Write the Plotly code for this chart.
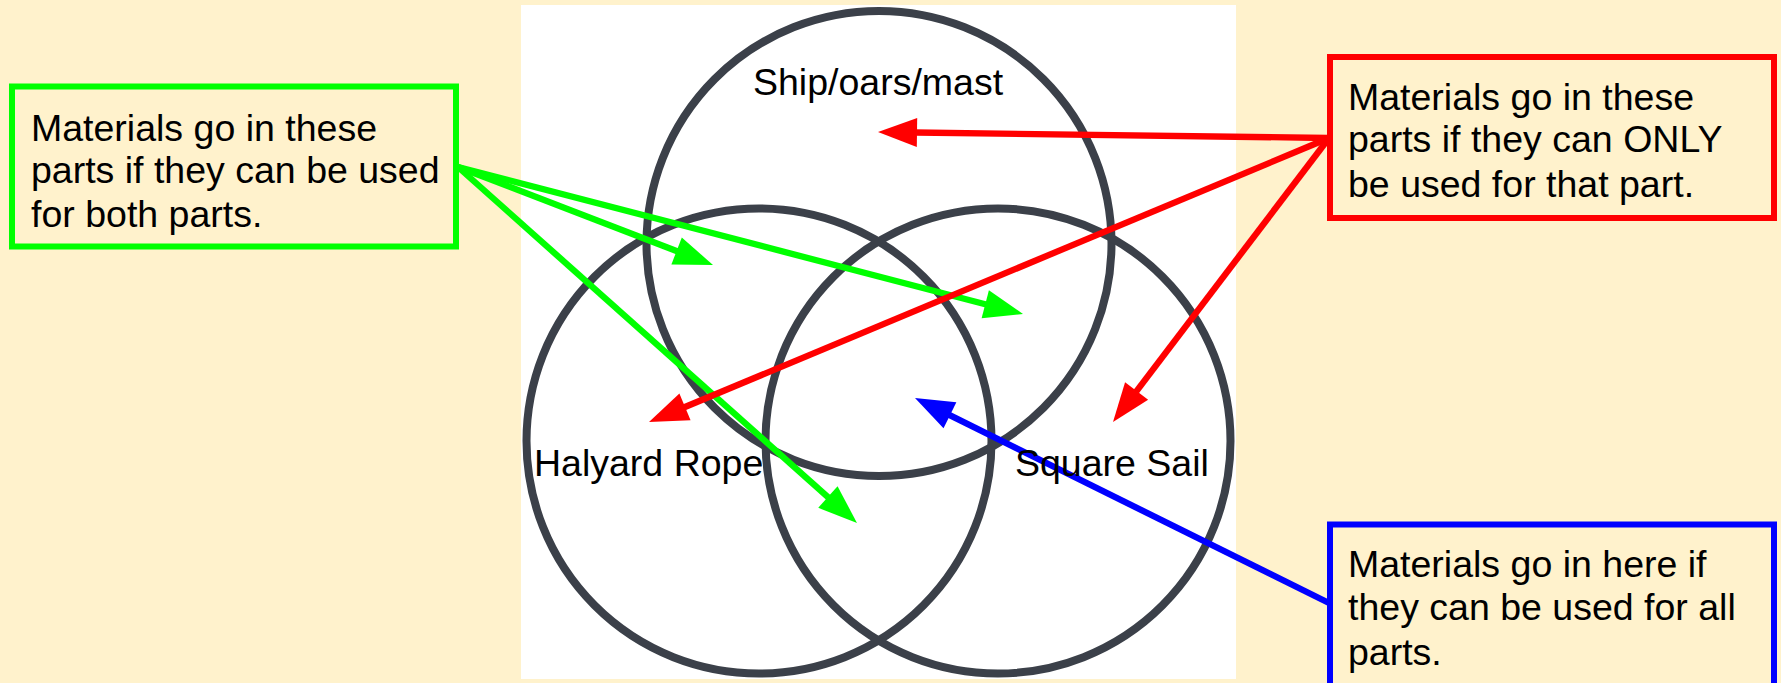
import math
import plotly.graph_objects as go

# ---- content ----
circle_labels = ["Ship/oars/mast", "Halyard Rope", "Square Sail"]
green_text = ["Materials go in these", "parts if they can be used", "for both parts."]
red_text = ["Materials go in these", "parts if they can ONLY", "be used for that part."]
blue_text = ["Materials go in here if", "they can be used for all", "parts."]

# ---- geometry (pixel space, y downward) ----
W, H = 1781, 683
BG = "#FFF2CC"
FONT = "Arial, Liberation Sans, sans-serif"
FS = 37.5
circle_centers = [(879, 243.5), (759, 441), (998, 441)]
R = 232.5
label_pos = [(878, 95), (648, 476), (1112, 476)]  # center x, baseline y

boxes = [
    dict(rect=(12, 86.5, 456, 246.5), color="#00FF00", text=green_text, tx=29, base=[141, 183, 227]),
    dict(rect=(1330, 57, 1774, 218), color="#FF0000", text=red_text, tx=1346, base=[110, 152, 197]),
    dict(rect=(1330, 524.5, 1774, 720), color="#0000FF", text=blue_text, tx=1346, base=[577, 620, 665]),
]

arrows = [
    ("#00FF00", (458, 167), [(713, 265), (1023, 314), (857, 523)]),
    ("#FF0000", (1329, 138), [(878, 132), (649, 422), (1113, 422)]),
    ("#0000FF", (1329, 603), [(915, 398)]),
]
HEAD_L, HEAD_W, LW = 39, 14.5, 6.3

shapes = []
annotations = []

# white panel
shapes.append(dict(type="rect", x0=521, y0=5, x1=1236, y1=679, fillcolor="white",
                   line=dict(width=0), layer="below"))
# circles
for (cx, cy) in circle_centers:
    shapes.append(dict(type="circle", x0=cx - R, y0=cy - R, x1=cx + R, y1=cy + R,
                       line=dict(color="#3b4049", width=8)))

# arrows
for color, (sx, sy), tips in arrows:
    for (tx, ty) in tips:
        dx, dy = tx - sx, ty - sy
        d = math.hypot(dx, dy)
        ux, uy = dx / d, dy / d
        bx, by = tx - HEAD_L * ux, ty - HEAD_L * uy
        nx, ny = -uy, ux
        shapes.append(dict(type="line", x0=sx, y0=sy, x1=bx + 2 * ux, y1=by + 2 * uy,
                           line=dict(color=color, width=LW)))
        p = (f"M {tx},{ty} L {bx + HEAD_W * nx},{by + HEAD_W * ny} "
             f"L {bx - HEAD_W * nx},{by - HEAD_W * ny} Z")
        shapes.append(dict(type="path", path=p, fillcolor=color, line=dict(width=0)))

# boxes
for b in boxes:
    x0, y0, x1, y1 = b["rect"]
    shapes.append(dict(type="rect", x0=x0, y0=y0, x1=x1, y1=y1,
                       line=dict(color=b["color"], width=6), fillcolor="rgba(0,0,0,0)"))
    for line, base in zip(b["text"], b["base"]):
        annotations.append(dict(x=b["tx"], y=base - 13, text=line, showarrow=False,
                                xanchor="left", yanchor="middle",
                                font=dict(family=FONT, size=FS, color="black")))

# circle labels
for lab, (lx, lb) in zip(circle_labels, label_pos):
    annotations.append(dict(x=lx, y=lb - 13, text=lab, showarrow=False,
                            xanchor="center", yanchor="middle",
                            font=dict(family=FONT, size=FS, color="black")))

fig = go.Figure()
fig.add_trace(go.Scatter(x=[0, W], y=[0, H], mode="markers", marker=dict(opacity=0),
                         hoverinfo="skip", showlegend=False))
fig.update_layout(
    width=W, height=H, margin=dict(l=0, r=0, t=0, b=0),
    paper_bgcolor=BG, plot_bgcolor=BG,
    xaxis=dict(range=[0, W], visible=False, fixedrange=True),
    yaxis=dict(range=[H, 0], visible=False, fixedrange=True),
    shapes=shapes, annotations=annotations, showlegend=False,
)
fig.write_html(
    "out.html",
    config={"displayModeBar": False},
    post_script="document.body.style.margin='0';document.body.style.overflow='hidden';"
                "document.body.style.background='" + BG + "';",
)
